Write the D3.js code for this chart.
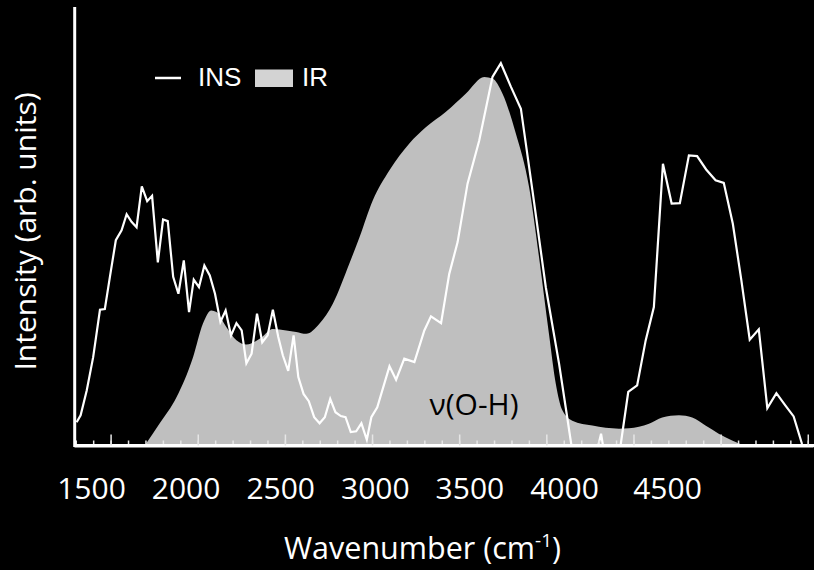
<!DOCTYPE html>
<html>
<head>
<meta charset="utf-8">
<script src="https://cdn.jsdelivr.net/npm/d3@7"></script>
<style>
  html, body { margin: 0; padding: 0; background: #000; }
  svg { display: block; }
</style>
</head>
<body>
<svg id="chart" width="814" height="570"></svg>
<script>
// ---- data ----
const insWavenumber = [1305,1328,1363,1400,1439,1467,1496,1530,1563,1592,1620,1649,1679,1710,1738,1771,1801,1828,1859,1889,1920,1950,1977,2007,2038,2069,2099,2130,2160,2191,2222,2252,2279,2309,2340,2370,2401,2431,2462,2488,2519,2550,2577,2607,2637,2668,2699,2729,2760,2790,2821,2848,2878,2909,2939,2970,2996,3030,3100,3138,3185,3243,3300,3338,3396,3443,3491,3548,3615,3691,3739,3797,3854,3920,3997,4073,4111,4144,4298,4314,4325,4426,4470,4521,4570,4617,4669,4719,4766,4818,4865,4917,4971,5018,5070,5119,5167,5219,5268,5320,5371,5419,5467];
const insIntensity  = [6.1,7.9,14.4,23.1,35.5,35.7,44.1,53.7,56.3,60.5,58.5,57.1,67.8,63.9,65.3,47.9,59.1,58.7,44.1,39.7,48.4,34.9,43.4,41.4,47.1,44.5,39.7,32.3,35.3,28.8,32.0,30.1,21.5,24.0,34.5,27.0,28.8,35.5,28.4,23.6,19.5,28.8,17.9,13.5,11.6,7.4,5.8,7.4,12.2,8.7,7.7,7.4,3.5,3.7,5.8,1.5,7.4,10.0,20.7,17.2,22.7,21.8,30.1,33.8,32.0,44.9,53.2,68.5,79.8,96.4,100,93.8,88.1,66.8,41.4,21.4,10.0,0,0,3.1,0,0,14.0,15.7,27.5,36.2,73.7,63.3,63.4,75.9,75.7,72.2,69.4,68.7,58.0,43.2,27.7,30.4,9.8,13.7,10.5,7.6,0.4];

const irWavenumber = [1696,1782,1878,1973,2030,2078,2107,2164,2222,2279,2355,2431,2508,2565,2622,2699,2775,2870,2928,3004,3100,3214,3310,3424,3539,3644,3691,3748,3825,3901,3958,4015,4054,4092,4149,4264,4417,4474,4589,4665,4761,4837,4913,4989,5066,5133];
const irIntensity  = [0,5.8,12.6,23.1,31.9,35.3,34.9,31.0,27.5,26.4,27.9,30.5,30.1,29.7,29.2,31.9,37.1,47.6,54.5,64.1,72.0,79.0,83.3,87.3,92.1,96.4,96.0,92.1,81.6,67.6,49.3,29.2,16.2,9.2,6.5,5.2,4.4,4.5,5.7,7.3,7.9,7.3,5.2,3.1,1.3,0];

const tickLabels = ["1500","2000","2500","3000","3500","4000","4500"];
const tickLabelValues = [1500,2000,2500,3000,3500,4000,4500];
const legendLabels = ["INS","IR"];
const bandLabel = "\u03bd(O-H)";
const bandLabelPos = [3585, 8];
const xTitle = "Wavenumber (cm";
const yTitle = "Intensity (arb. units)";

// ---- drawing ----
const svg = d3.select("#chart");
svg.append("rect").attr("width", 814).attr("height", 570).attr("fill", "#000");

const x = d3.scaleLinear().domain([1290, 5530]).range([74, 813]);
const y = d3.scaleLinear().domain([0, 114.7]).range([445.5, 7]);
// tick labels were placed slightly off the tick marks in the reference
const xLabel = d3.scaleLinear().domain([1500, 4000, 4500]).range([91, 564, 667]);

const irData = irWavenumber.map((w, i) => ({w, v: irIntensity[i]}));
const insData = insWavenumber.map((w, i) => ({w, v: insIntensity[i]}));

svg.append("path")
  .datum(irData)
  .attr("fill", "#bfbfbf")
  .attr("d", d3.area().x(d => x(d.w)).y0(y(0)).y1(d => y(d.v)).curve(d3.curveMonotoneX));

svg.append("path")
  .datum(insData)
  .attr("fill", "none")
  .attr("stroke", "#fff")
  .attr("stroke-width", 2.2)
  .attr("stroke-linejoin", "miter")
  .attr("d", d3.line().x(d => x(d.w)).y(d => y(d.v)));

// band label
svg.append("text")
  .attr("x", x(bandLabelPos[0])).attr("y", y(bandLabelPos[1]))
  .attr("text-anchor", "middle")
  .attr("font-family", "Open Sans")
  .attr("font-size", 30)
  .attr("fill", "#000")
  .text(bandLabel);

// x axis: minor and major ticks pointing inward
const minor = svg.append("g").attr("transform", `translate(0,${y(0)})`)
  .call(d3.axisBottom(x).tickValues(d3.range(1300, 5501, 100)).tickSize(-5).tickSizeOuter(0).tickFormat(""));
const major = svg.append("g").attr("transform", `translate(0,${y(0)})`)
  .call(d3.axisBottom(x).tickValues(d3.range(1500, 5501, 500)).tickSize(-11).tickSizeOuter(0).tickFormat(""));
[minor, major].forEach(g => {
  g.selectAll(".tick line").attr("stroke", "#e6e6e6").attr("stroke-width", 1.5);
  g.select(".domain").attr("stroke", "#fff").attr("stroke-width", 3);
});
major.select(".domain").attr("d", `M74,0H814`);

// tick labels
const lab = svg.append("g").attr("transform", `translate(0,${y(0)})`)
  .call(d3.axisBottom(xLabel).tickValues(tickLabelValues).tickSize(0).tickFormat((d, i) => tickLabels[i]));
lab.select(".domain").remove();
lab.selectAll("text")
  .attr("y", 53).attr("dy", 0)
  .attr("font-family", "Open Sans").attr("font-size", 30).attr("fill", "#fff");

// y axis line
const ya = svg.append("g").attr("transform", `translate(74.7,0)`)
  .call(d3.axisLeft(y).tickValues([]).tickSizeOuter(0));
ya.select(".domain").attr("stroke", "#fff").attr("stroke-width", 3);
ya.select(".domain").attr("d", `M0,447V7`);

// titles
const xt = svg.append("text")
  .attr("x", 422.5).attr("y", 559)
  .attr("text-anchor", "middle")
  .attr("font-family", "Open Sans").attr("font-size", 30.5).attr("fill", "#fff");
xt.append("tspan").text(xTitle);
xt.append("tspan").attr("dy", -12).attr("font-size", 19).text("-1");
xt.append("tspan").attr("dy", 12).text(")");

svg.append("text")
  .attr("transform", "translate(36,231.5) rotate(-90)")
  .attr("text-anchor", "middle")
  .attr("font-family", "Open Sans").attr("font-size", 30).attr("fill", "#fff")
  .text(yTitle);

// legend
const leg = svg.append("g");
leg.append("line").attr("x1", 155).attr("x2", 181).attr("y1", 78).attr("y2", 78)
  .attr("stroke", "#fff").attr("stroke-width", 2.5);
leg.append("text").attr("x", 198).attr("y", 86)
  .attr("font-family", "Liberation Sans, Arial").attr("font-size", 26).attr("fill", "#fff")
  .text(legendLabels[0]);
leg.append("rect").attr("x", 255).attr("y", 69.5).attr("width", 38).attr("height", 17.5)
  .attr("fill", "#d3d3d3");
leg.append("text").attr("x", 302).attr("y", 86)
  .attr("font-family", "Liberation Sans, Arial").attr("font-size", 26).attr("fill", "#fff")
  .text(legendLabels[1]);
</script>
</body>
</html>
